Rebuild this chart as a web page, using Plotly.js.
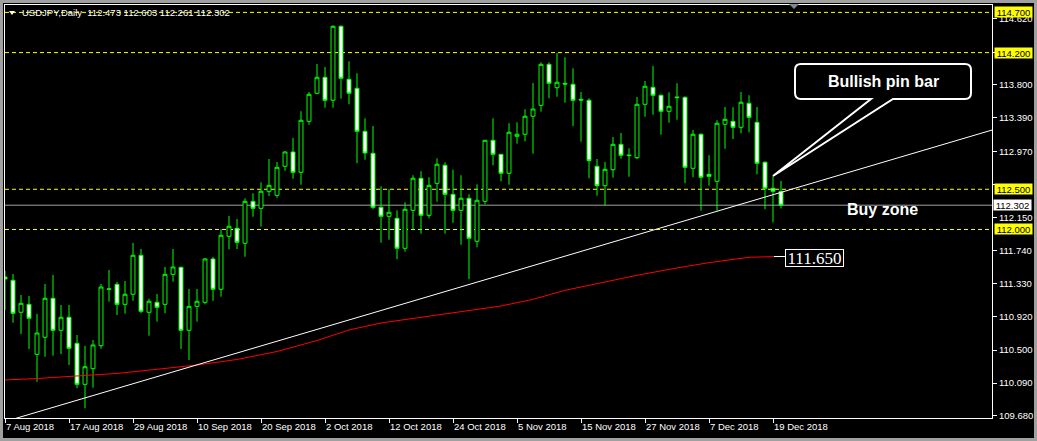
<!DOCTYPE html>
<html>
<head>
<meta charset="utf-8">
<script src="https://cdn.plot.ly/plotly-3.0.1.min.js"></script>
<style>html,body{margin:0;padding:0;background:#000;}#chart{width:1037px;height:441px;}</style>
</head>
<body>
<div id="chart"></div>
<script>
// ---- Data ----
const symbolTitle = "USDJPY,Daily  112.473 112.603 112.261 112.302";

const opens = [111.409,111.368,110.970,111.069,110.447,110.659,111.144,110.746,110.908,110.584,
110.074,110.268,110.554,111.256,111.318,111.069,111.194,111.679,110.970,111.094,
111.069,111.442,111.530,110.746,111.044,111.094,111.633,111.256,111.915,112.015,
111.828,112.350,112.263,112.475,112.425,112.786,112.964,112.711,113.345,113.694,
113.893,113.607,114.527,113.868,113.756,113.221,112.948,112.276,112.164,112.139,
111.766,112.238,112.637,112.176,112.574,112.798,112.437,112.238,112.388,111.853,
112.350,113.109,112.935,112.699,113.159,113.184,113.408,113.544,114.054,113.763,
113.818,113.806,113.619,113.607,112.786,112.544,112.743,113.059,112.926,112.893,
113.557,113.768,113.669,113.470,113.648,113.644,112.761,113.184,112.686,112.599,
113.308,113.345,113.271,113.569,113.333,112.836,112.512,112.473];

const highs = [111.483,111.446,111.185,111.173,110.949,111.322,111.434,111.061,111.061,110.687,
110.551,110.625,111.322,111.496,111.347,111.359,111.832,111.757,111.139,111.197,
111.533,111.757,111.535,111.260,111.260,111.645,111.658,112.002,112.168,112.130,
112.388,112.450,112.587,112.877,112.839,112.972,113.138,113.470,113.710,114.058,
114.021,114.540,114.540,114.092,113.943,113.383,113.287,112.537,112.500,112.238,
112.338,112.674,112.724,112.649,112.885,112.836,112.743,112.674,112.437,112.562,
113.112,113.383,112.938,113.321,113.333,113.495,113.822,114.079,114.079,114.195,
114.142,114.005,113.710,113.632,112.877,112.839,113.150,113.200,113.010,113.648,
113.847,114.033,113.681,113.706,113.818,113.656,113.237,113.196,112.923,113.358,
113.523,113.519,113.710,113.669,113.523,112.848,112.661,112.603];

const lows = [110.998,110.840,110.700,110.513,110.107,110.418,110.430,110.451,110.314,110.025,
109.776,110.032,110.517,111.102,110.936,110.952,111.114,110.957,110.679,110.853,
110.957,111.350,110.513,110.377,110.853,111.069,111.114,111.164,111.753,111.757,
111.661,112.159,112.035,112.416,112.395,112.731,112.632,112.557,113.303,113.681,
113.515,113.515,113.627,113.557,112.823,112.868,112.251,111.836,111.873,111.629,
111.724,112.002,111.947,112.139,112.345,111.947,112.084,111.811,111.380,111.778,
112.313,112.798,112.599,112.557,113.067,113.097,112.942,113.465,113.632,113.651,
113.577,113.287,113.092,112.637,112.420,112.296,112.644,112.880,112.656,112.873,
113.403,113.428,113.179,113.328,113.365,112.574,112.649,112.234,112.544,112.234,
113.005,113.125,113.196,113.209,112.686,112.251,112.089,112.261];

const closes = [111.384,110.957,111.082,110.895,110.712,111.144,110.746,110.908,110.522,110.074,
110.293,110.563,111.284,111.260,111.069,111.194,111.679,110.982,111.107,111.032,
111.442,111.533,110.746,111.044,111.107,111.633,111.256,111.928,112.040,111.840,
112.350,112.263,112.475,112.549,112.773,112.964,112.711,113.358,113.681,113.893,
113.607,114.527,113.880,113.694,113.221,112.951,112.276,112.164,112.214,111.766,
112.251,112.637,112.176,112.549,112.811,112.437,112.238,112.388,111.890,112.363,
113.109,112.935,112.699,113.209,113.184,113.408,113.498,114.054,113.818,113.831,
113.809,113.607,113.610,112.855,112.544,112.748,113.059,112.923,112.919,113.557,
113.781,113.669,113.470,113.532,113.640,112.773,113.184,112.649,112.661,113.321,
113.370,113.271,113.582,113.395,112.823,112.512,112.475,112.302];

// moving average (red), read at selected bars
const maIdx = [0,4,9,14,19,24,29,34,39,43,47,52,57,62,66,70,75,79,84,88,93,97];
const maVal = [110.128,110.146,110.178,110.209,110.261,110.314,110.383,110.482,110.619,110.750,
110.837,110.905,110.973,111.048,111.131,111.243,111.347,111.430,111.521,111.587,111.654,111.665];

// trend line (white) end points
const trendX = [0, 124];
const trendY = [109.611, 113.255];

// date tick labels
const dateTickIdx = [0,8,16,24,32,40,48,56,64,72,80,88,96];
const dateTickText = ['7 Aug 2018','17 Aug 2018','29 Aug 2018','10 Sep 2018','20 Sep 2018','2 Oct 2018',
'12 Oct 2018','24 Oct 2018','5 Nov 2018','15 Nov 2018','27 Nov 2018','7 Dec 2018','19 Dec 2018'];

// price ticks (labels hidden behind level boxes are left blank)
const priceTicks = [109.680,110.090,110.500,110.920,111.330,111.740,112.150,112.560,112.970,113.390,113.800,114.200,114.620];
const priceTickText = ['109.680','110.090','110.500','110.920','111.330','111.740','112.150','','112.970','113.390','113.800','','114.620'];

// horizontal levels
const yellowLevels = [114.700,114.200,112.500,112.000];
const bidPrice = 112.302;
const maLabel = '111.650';
const calloutText = 'Bullish pin bar';
const zoneText = 'Buy zone';

// ---- Layout helpers (pixel -> paper) ----
const PL = 5, PR = 992, PT = 5, PB = 418;
const X = px => (px - PL) / (PR - PL);
const Y = py => (PB - py) / (PB - PT);
const P = (x, y) => X(x) + ',' + Y(y);

const idx = opens.map((_, i) => i);
const FONT = 'Liberation Sans, Arial, sans-serif';

const traces = [
  {
    type: 'scatter', mode: 'lines', x: maIdx, y: maVal,
    line: {color: '#ff0000', width: 1}, hoverinfo: 'skip', cliponaxis: true
  },
  {
    type: 'scatter', mode: 'lines', x: trendX, y: trendY,
    line: {color: '#ffffff', width: 1}, hoverinfo: 'skip', cliponaxis: true
  },
  {
    type: 'candlestick', x: idx, open: opens, high: highs, low: lows, close: closes,
    whiskerwidth: 0,
    increasing: {line: {color: '#00ff00', width: 1}, fillcolor: '#000000'},
    decreasing: {line: {color: '#00ff00', width: 1}, fillcolor: '#ffffff'},
    hoverinfo: 'skip'
  }
];

const shapes = [];
yellowLevels.forEach(v => shapes.push({
  type: 'line', xref: 'paper', yref: 'y', x0: 0, x1: 1, y0: v, y1: v, layer: 'below',
  line: {color: '#ffff00', width: 1, dash: '4px,3px'}
}));
shapes.push({type: 'line', xref: 'paper', yref: 'y', x0: 0, x1: 1, y0: bidPrice, y1: bidPrice, layer: 'below',
  line: {color: '#a0a0a0', width: 1}});

// window frame bands
const gray = '#a0a0a0';
shapes.push({type: 'rect', xref: 'paper', yref: 'paper', x0: X(0), x1: X(1037), y0: Y(0), y1: Y(3), fillcolor: gray, line: {width: 0}});
shapes.push({type: 'rect', xref: 'paper', yref: 'paper', x0: X(0), x1: X(3), y0: Y(0), y1: Y(441), fillcolor: gray, line: {width: 0}});
shapes.push({type: 'rect', xref: 'paper', yref: 'paper', x0: X(0), x1: X(1037), y0: Y(438), y1: Y(441), fillcolor: gray, line: {width: 0}});
shapes.push({type: 'rect', xref: 'paper', yref: 'paper', x0: X(1034), x1: X(1037), y0: Y(0), y1: Y(441), fillcolor: gray, line: {width: 0}});

// callout bubble
shapes.push({
  type: 'path', xref: 'paper', yref: 'paper',
  path: `M ${P(801,64)} L ${P(965,64)} Q ${P(971,64)} ${P(971,70)} L ${P(971,93)} Q ${P(971,99)} ${P(965,99)} L ${P(893,99)} L ${P(773,176)} L ${P(871,99)} L ${P(801,99)} Q ${P(795,99)} ${P(795,93)} L ${P(795,70)} Q ${P(795,64)} ${P(801,64)} Z`,
  fillcolor: '#000000', line: {color: '#ffffff', width: 2}
});
// title triangle
shapes.push({type: 'path', xref: 'paper', yref: 'paper', path: `M ${P(9,11)} L ${P(15,11)} L ${P(12,15)} Z`, fillcolor: '#ffffff', line: {width: 0}});
// chart-shift marker
shapes.push({type: 'path', xref: 'paper', yref: 'paper', path: `M ${P(789,4)} L ${P(799,4)} L ${P(794,9)} Z`, fillcolor: '#7a8896', line: {width: 0}});
// connector to MA label
shapes.push({type: 'line', xref: 'paper', yref: 'paper', x0: X(774), x1: X(785), y0: Y(256.5), y1: Y(256.5), line: {color: '#ffffff', width: 1}});

const annotations = [];
annotations.push({xref: 'paper', yref: 'paper', x: X(20), y: Y(13), xanchor: 'left', yanchor: 'middle',
  text: symbolTitle, showarrow: false, font: {family: FONT, size: 9.5, color: '#ffffff'}});
yellowLevels.forEach(v => annotations.push({
  xref: 'paper', yref: 'y', x: X(1013.5), y: v, xanchor: 'center', yanchor: 'middle',
  text: v.toFixed(3), showarrow: false, bgcolor: '#ffff00', width: 37, height: 10, borderpad: 0,
  font: {family: FONT, size: 9.5, color: '#000000'}
}));
annotations.push({xref: 'paper', yref: 'y', x: X(1013), y: bidPrice, xanchor: 'center', yanchor: 'middle',
  text: bidPrice.toFixed(3), showarrow: false, bgcolor: '#ffffff', width: 37, height: 10, borderpad: 0,
  font: {family: FONT, size: 9.5, color: '#000000'}});
annotations.push({xref: 'paper', yref: 'paper', x: X(883), y: Y(82), xanchor: 'center', yanchor: 'middle',
  text: '<b>' + calloutText + '</b>', showarrow: false, font: {family: FONT, size: 16, color: '#ffffff'}});
annotations.push({xref: 'paper', yref: 'paper', x: X(882), y: Y(209), xanchor: 'center', yanchor: 'middle',
  text: '<b>' + zoneText + '</b>', showarrow: false, font: {family: FONT, size: 16, color: '#ffffff'}});
annotations.push({xref: 'paper', yref: 'paper', x: X(814.5), y: Y(257.5), xanchor: 'center', yanchor: 'middle',
  text: maLabel, showarrow: false, bgcolor: '#000000', bordercolor: '#ffffff', borderwidth: 1, borderpad: 0,
  width: 57, height: 16, font: {family: 'Liberation Serif, Times New Roman, serif', size: 17, color: '#ffffff'}});

const axisCommon = {
  showgrid: false, zeroline: false, showline: true, linecolor: '#ffffff', linewidth: 1, mirror: true,
  ticks: 'outside', ticklen: 4, tickcolor: '#ffffff', tickwidth: 1,
  tickfont: {family: FONT, size: 9.5, color: '#ffffff'}, fixedrange: true
};

const layout = {
  width: 1037, height: 441,
  margin: {l: PL, r: 1037 - PR, t: PT, b: 441 - PB, pad: 0},
  paper_bgcolor: '#000000', plot_bgcolor: '#000000',
  showlegend: false, hovermode: false,
  xaxis: Object.assign({}, axisCommon, {
    range: [0, (PR - PL) / 8], tickmode: 'array', tickvals: dateTickIdx, ticktext: dateTickText,
    ticklabelposition: 'outside right', rangeslider: {visible: false}
  }),
  yaxis: Object.assign({}, axisCommon, {
    side: 'right', range: [109.655, 114.792], tickmode: 'array', tickvals: priceTicks,
    ticktext: priceTickText
  }),
  shapes: shapes,
  annotations: annotations
};

Plotly.newPlot('chart', traces, layout, {displayModeBar: false, staticPlot: true});
</script>
</body>
</html>
